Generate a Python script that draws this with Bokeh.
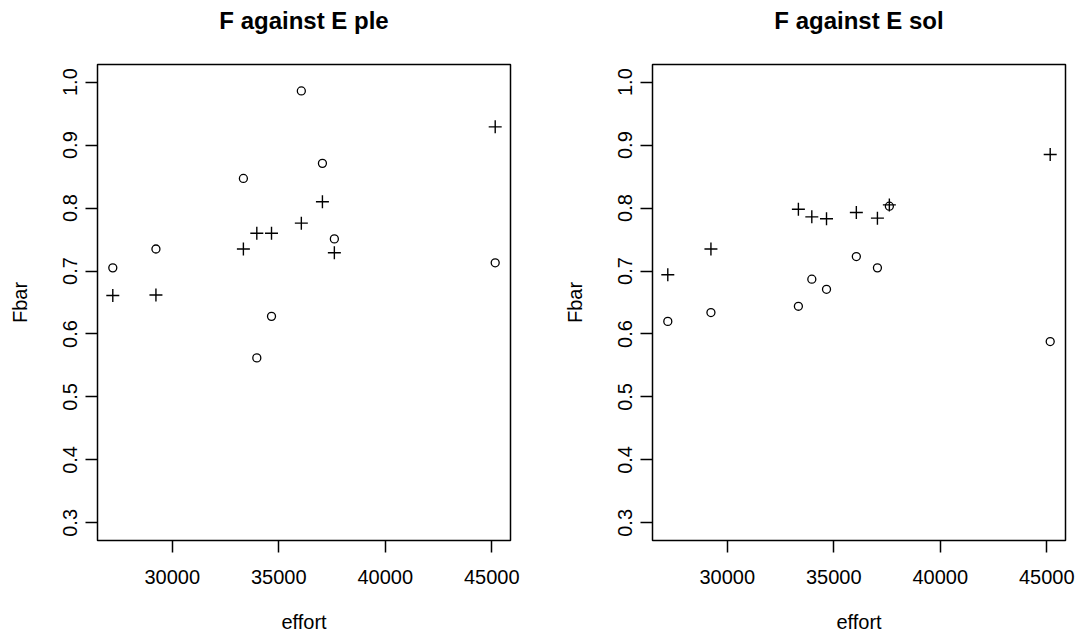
from bokeh.plotting import figure
from bokeh.layouts import row
from bokeh.models import Range1d, FixedTicker, NumeralTickFormatter, Title
from bokeh.embed import file_html
from bokeh.resources import INLINE

# Fishing effort per year and mean F (Fbar), two estimates per stock
effort = [27210, 29235, 33340, 33970, 34660, 36060, 37050, 37610, 45160]

ple_circle = [0.705, 0.735, 0.847, 0.562, 0.628, 0.986, 0.871, 0.751, 0.713]
ple_plus = [0.661, 0.662, 0.735, 0.760, 0.760, 0.776, 0.810, 0.729, 0.929]

sol_circle = [0.620, 0.634, 0.644, 0.687, 0.671, 0.723, 0.705, 0.803, 0.588]
sol_plus = [0.694, 0.735, 0.798, 0.786, 0.783, 0.793, 0.784, 0.805, 0.885]

x_ticks = [30000, 35000, 40000, 45000]
y_ticks = [0.3, 0.4, 0.5, 0.6, 0.7, 0.8, 0.9, 1.0]
y_lim = (0.3, 1.0)

FONT = "Liberation Sans"
FRAME_W = 413


def padded(lo, hi, frac=0.04):
    d = (hi - lo) * frac
    return lo - d, hi + d


def panel(title, circ, plus, left_border, right_border):
    xlo, xhi = padded(min(effort), max(effort))
    ylo, yhi = padded(*y_lim)
    p = figure(
        width=left_border + FRAME_W + right_border, height=637,
        x_range=Range1d(xlo, xhi), y_range=Range1d(ylo, yhi),
        output_backend="svg", toolbar_location=None, title=None,
        min_border_left=left_border, min_border_right=right_border,
        min_border_top=64, min_border_bottom=97,
    )
    p.background_fill_color = "white"
    p.border_fill_color = "white"
    p.outline_line_color = "black"
    p.outline_line_width = 1.5
    p.grid.visible = False

    # blank gap between the frame and the heading, then the heading itself
    p.add_layout(Title(text=" ", text_font_size="20px", standoff=5), "above")
    p.add_layout(Title(text=title, align="center", text_font=FONT,
                       text_font_size="24px", text_font_style="bold",
                       text_color="black", standoff=4), "above")

    for ax in (p.xaxis[0], p.yaxis[0]):
        ax.axis_line_color = None
        ax.major_tick_line_color = "black"
        ax.major_tick_line_width = 1.5
        ax.major_tick_out = 12
        ax.major_tick_in = 0
        ax.minor_tick_line_color = None
        ax.major_label_text_font = FONT
        ax.major_label_text_font_size = "20px"
        ax.major_label_text_color = "black"
        ax.axis_label_text_font = FONT
        ax.axis_label_text_font_size = "20px"
        ax.axis_label_text_font_style = "normal"
        ax.axis_label_text_color = "black"

    p.xaxis.ticker = FixedTicker(ticks=x_ticks)
    p.xaxis.formatter = NumeralTickFormatter(format="0")
    p.xaxis.axis_label = "effort"
    p.xaxis.major_label_standoff = 17
    p.xaxis.axis_label_standoff = 24

    p.yaxis.ticker = FixedTicker(ticks=y_ticks)
    p.yaxis.formatter = NumeralTickFormatter(format="0.0")
    p.yaxis.axis_label = "Fbar"
    p.yaxis.major_label_orientation = "vertical"
    p.yaxis.major_label_standoff = 8
    p.yaxis.axis_label_standoff = 30

    p.scatter(effort, circ, marker="circle", size=8, fill_color=None,
              line_color="black", line_width=1.3)
    p.scatter(effort, plus, marker="cross", size=13,
              line_color="black", line_width=1.4)
    return p


left = panel("F against E ple", ple_circle, ple_plus, 97, 32)
right = panel("F against E sol", sol_circle, sol_plus, 110, 19)

layout = row(left, right)
open("out.html", "w").write(file_html(layout, INLINE))
